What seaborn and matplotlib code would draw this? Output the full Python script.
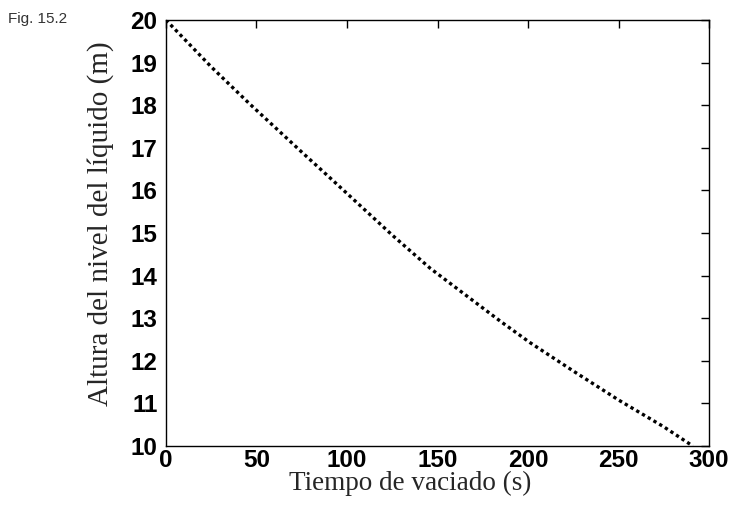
import matplotlib
matplotlib.use('Agg')
import matplotlib.pyplot as plt
import pandas as pd
import seaborn as sns

# valores
tiempo = [0, 25, 46, 75, 91, 102, 125, 146, 175, 185, 201, 225, 250, 275, 291]
altura = [20.0, 18.9, 18.04, 16.9, 16.28, 15.85, 14.95, 14.17, 13.24, 12.92, 12.43, 11.76, 11.08, 10.45, 10.0]
xticks = [0, 50, 100, 150, 200, 250, 300]
yticks = [10, 11, 12, 13, 14, 15, 16, 17, 18, 19, 20]

df = pd.DataFrame({"t": tiempo, "h": altura})

sns.set_theme(style="white")
plt.rcParams['font.family'] = ['Liberation Sans', 'DejaVu Sans']

fig = plt.figure(figsize=(7.31, 5.07), dpi=100)
ax = fig.add_axes([0.227, 0.1203, 0.743, 0.8403])

sns.lineplot(data=df, x="t", y="h", ax=ax, color="black", linewidth=2.4,
             linestyle=(0, (1, 1.0)), dash_capstyle="butt")

ax.set_xlim(0, 300)
ax.set_ylim(10, 20)
ax.set_xticks(xticks)
ax.set_yticks(yticks)
ax.tick_params(direction="in", length=6, width=1, labelsize=17.5, colors="black",
               top=True, right=True)
ax.tick_params(axis="x", pad=2)
ax.tick_params(axis="y", pad=6)
for lab in ax.get_xticklabels() + ax.get_yticklabels():
    lab.set_fontweight("bold")
for s in ax.spines.values():
    s.set_color("black")
    s.set_linewidth(1)

ax.set_xlabel("Tiempo de vaciado (s)", family="Liberation Serif", size=19.5)
ax.set_ylabel("Altura del nivel del líquido (m)", family="Liberation Serif", size=21)
ax.xaxis.set_label_coords(0.45, -0.058)
ax.yaxis.set_label_coords(-0.096, 0.522)

fig.text(0.011, 0.962, "Fig. 15.2", fontsize=11, color="#333333",
         family=["Liberation Sans Narrow", "Liberation Sans"], va="center")

fig.savefig("out.png", dpi=100)
